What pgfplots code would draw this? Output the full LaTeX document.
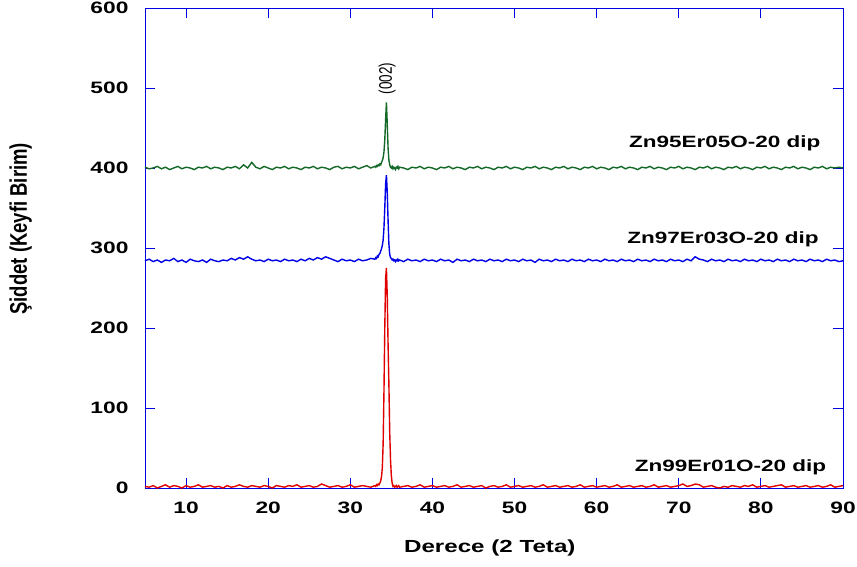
\documentclass[border=0pt]{standalone}
\usepackage{fontspec}
\setmainfont{Liberation Sans}[FakeStretch=1.38]
\newfontfamily\plainfont{Liberation Sans}
\usepackage{pgfplots}
\usepackage{pgfplotstable}
\pgfplotsset{compat=1.18}
\definecolor{cgreen}{RGB}{20,105,40}
\definecolor{cblue}{RGB}{0,0,230}
\definecolor{cred}{RGB}{225,0,0}
\pgfplotstableread{
x r b g
5.0 2 284 401
5.5 1 286 399
6.0 3 283 400
6.5 0 285 402
7.0 2 282 399
7.5 4 285 401
8.0 1 284 398
8.5 3 287 400
9.0 2 283 402
9.5 0 285 399
10.0 3 282 401
10.5 1 286 400
11.0 2 284 398
11.5 4 283 401
12.0 1 285 400
12.5 2 282 402
13.0 3 286 399
13.5 1 284 401
14.0 2 283 400
14.5 0 285 398
15.0 3 284 401
15.5 1 287 400
16.0 2 285 402
16.5 4 288 399
17.0 2 286 404
17.5 1 289 400
18.0 3 286 407
18.5 2 284 401
19.0 1 285 399
19.5 3 283 402
20.0 2 286 400
20.5 0 284 398
21.0 3 285 401
21.5 2 283 400
22.0 1 286 402
22.5 3 284 399
23.0 2 285 401
23.5 4 283 400
24.0 1 286 398
24.5 2 284 401
25.0 3 287 400
25.5 1 285 402
26.0 2 288 399
26.5 5 286 401
27.0 3 289 400
27.5 1 287 398
28.0 2 285 401
28.5 3 283 402
29.0 1 286 399
29.5 2 284 401
30.0 4 285 400
30.5 1 283 402
31.0 2 286 399
31.5 3 284 401
32.0 2 285 403
32.5 1 287 400
33.0 3 286 402
33.1 2 288 401
33.2 4 287 403
33.3 3 290 402
33.4 5 289 404
33.5 4 292 403
33.6 6 293 405
33.7 9 296 404
33.8 14 299 407
33.9 25 303 409
34.0 55 310 413
34.1 120 325 420
34.2 200 350 435
34.3 262 380 460
34.4 275 391 482
34.5 240 370 455
34.6 180 335 425
34.7 130 305 410
34.8 70 292 404
34.9 35 288 401
35.0 15 287 400
35.1 6 285 402
35.2 2 286 399
35.3 3 284 401
35.4 1 285 400
35.5 2 283 398
35.6 3 285 401
35.7 1 284 400
35.8 2 286 402
35.9 3 284 399
36.0 1 285 401
36.5 2 283 400
37.0 3 286 398
37.5 1 284 401
38.0 2 285 400
38.5 4 283 402
39.0 1 286 399
39.5 2 284 401
40.0 3 285 400
40.5 1 283 398
41.0 2 286 401
41.5 3 284 400
42.0 1 285 402
42.5 2 282 399
43.0 4 286 401
43.5 1 284 400
44.0 2 285 398
44.5 3 283 401
45.0 1 286 400
45.5 2 284 402
46.0 3 285 399
46.5 0 283 401
47.0 2 286 400
47.5 3 284 398
48.0 1 285 401
48.5 2 283 400
49.0 4 286 402
49.5 1 284 399
50.0 2 285 401
50.5 3 283 400
51.0 1 286 398
51.5 2 284 401
52.0 3 285 400
52.5 1 282 402
53.0 2 286 399
53.5 4 284 401
54.0 1 285 400
54.5 2 283 398
55.0 3 286 401
55.5 1 284 400
56.0 2 285 402
56.5 3 283 399
57.0 1 286 401
57.5 2 284 400
58.0 4 285 398
58.5 1 283 401
59.0 2 286 400
59.5 3 284 402
60.0 1 285 399
60.5 2 283 401
61.0 3 286 400
61.5 1 284 398
62.0 2 285 401
62.5 4 283 400
63.0 1 286 402
63.5 2 284 399
64.0 3 285 401
64.5 1 283 400
65.0 2 286 398
65.5 3 284 401
66.0 1 285 400
66.5 2 283 402
67.0 4 286 399
67.5 1 284 401
68.0 2 285 400
68.5 3 283 398
69.0 1 286 401
69.5 2 284 400
70.0 3 285 402
70.5 5 283 399
71.0 2 286 401
71.5 3 284 400
72.0 5 289 398
72.5 4 286 401
73.0 1 285 400
73.5 2 283 402
74.0 3 286 399
74.5 1 284 401
75.0 0 285 400
75.5 2 283 398
76.0 1 286 401
76.5 3 284 400
77.0 2 285 402
77.5 1 283 399
78.0 3 286 401
78.5 2 284 400
79.0 4 285 398
79.5 1 283 401
80.0 2 286 400
80.5 3 284 402
81.0 1 285 399
81.5 2 283 401
82.0 3 286 400
82.5 4 284 398
83.0 1 285 401
83.5 2 283 400
84.0 3 286 402
84.5 1 284 399
85.0 2 285 401
85.5 3 283 400
86.0 1 286 398
86.5 2 284 401
87.0 3 285 400
87.5 1 283 402
88.0 2 286 399
88.5 4 284 401
89.0 1 285 400
89.5 2 283 401
90.0 3 284 400
}\xrd
\begin{document}
\begin{tikzpicture}
\begin{axis}[
  scale only axis,
  width=698pt, height=480pt,
  xmin=5, xmax=90, ymin=0, ymax=600,
  xtick={10,20,...,90}, ytick={0,100,...,600},
  tick align=inside,
  major tick length=10pt,
  axis line style={cblue, line width=0.9pt},
  tick style={cblue, line width=0.8pt},
  /pgf/number format/assume math mode=true,
  tick label style={font=\fontsize{16.5}{18}\selectfont\bfseries},
  yticklabel style={xshift=-13pt},
  xticklabel style={yshift=-10pt},
  clip=false,
]
\addplot[cred, line width=1.4pt] table[x=x,y=r]{\xrd};
\addplot[cblue, line width=1.4pt] table[x=x,y=b]{\xrd};
\addplot[cgreen, line width=1.4pt] table[x=x,y=g]{\xrd};
\node[anchor=base, font=\fontsize{16.3}{18}\selectfont\bfseries] at (axis cs:75.6,426) {Zn95Er05O-20 dip};
\node[anchor=base, font=\fontsize{16.3}{18}\selectfont\bfseries] at (axis cs:75.4,306) {Zn97Er03O-20 dip};
\node[anchor=base, font=\fontsize{16.3}{18}\selectfont\bfseries] at (axis cs:76.3,20) {Zn99Er01O-20 dip};
\node[xscale=1.35, rotate=90, font=\plainfont\fontsize{13.5}{14}\selectfont, inner sep=0pt] at (axis cs:34.5,512) {(002)};
\node[anchor=base, font=\fontsize{17.5}{19}\selectfont\bfseries] at (axis description cs:0.494,-0.1354) {Derece (2 Teta)};
\node[xscale=1.3, rotate=90, font=\plainfont\fontsize{18.5}{20}\selectfont\bfseries, inner sep=0pt] at (axis description cs:-0.178,0.54) {Şiddet (Keyfi Birim)};
\end{axis}
\pgfresetboundingbox
\path ([shift={(-145pt,-79pt)}]current axis.south west) rectangle ([shift={(14pt,8pt)}]current axis.north east);
\end{tikzpicture}
\end{document}
